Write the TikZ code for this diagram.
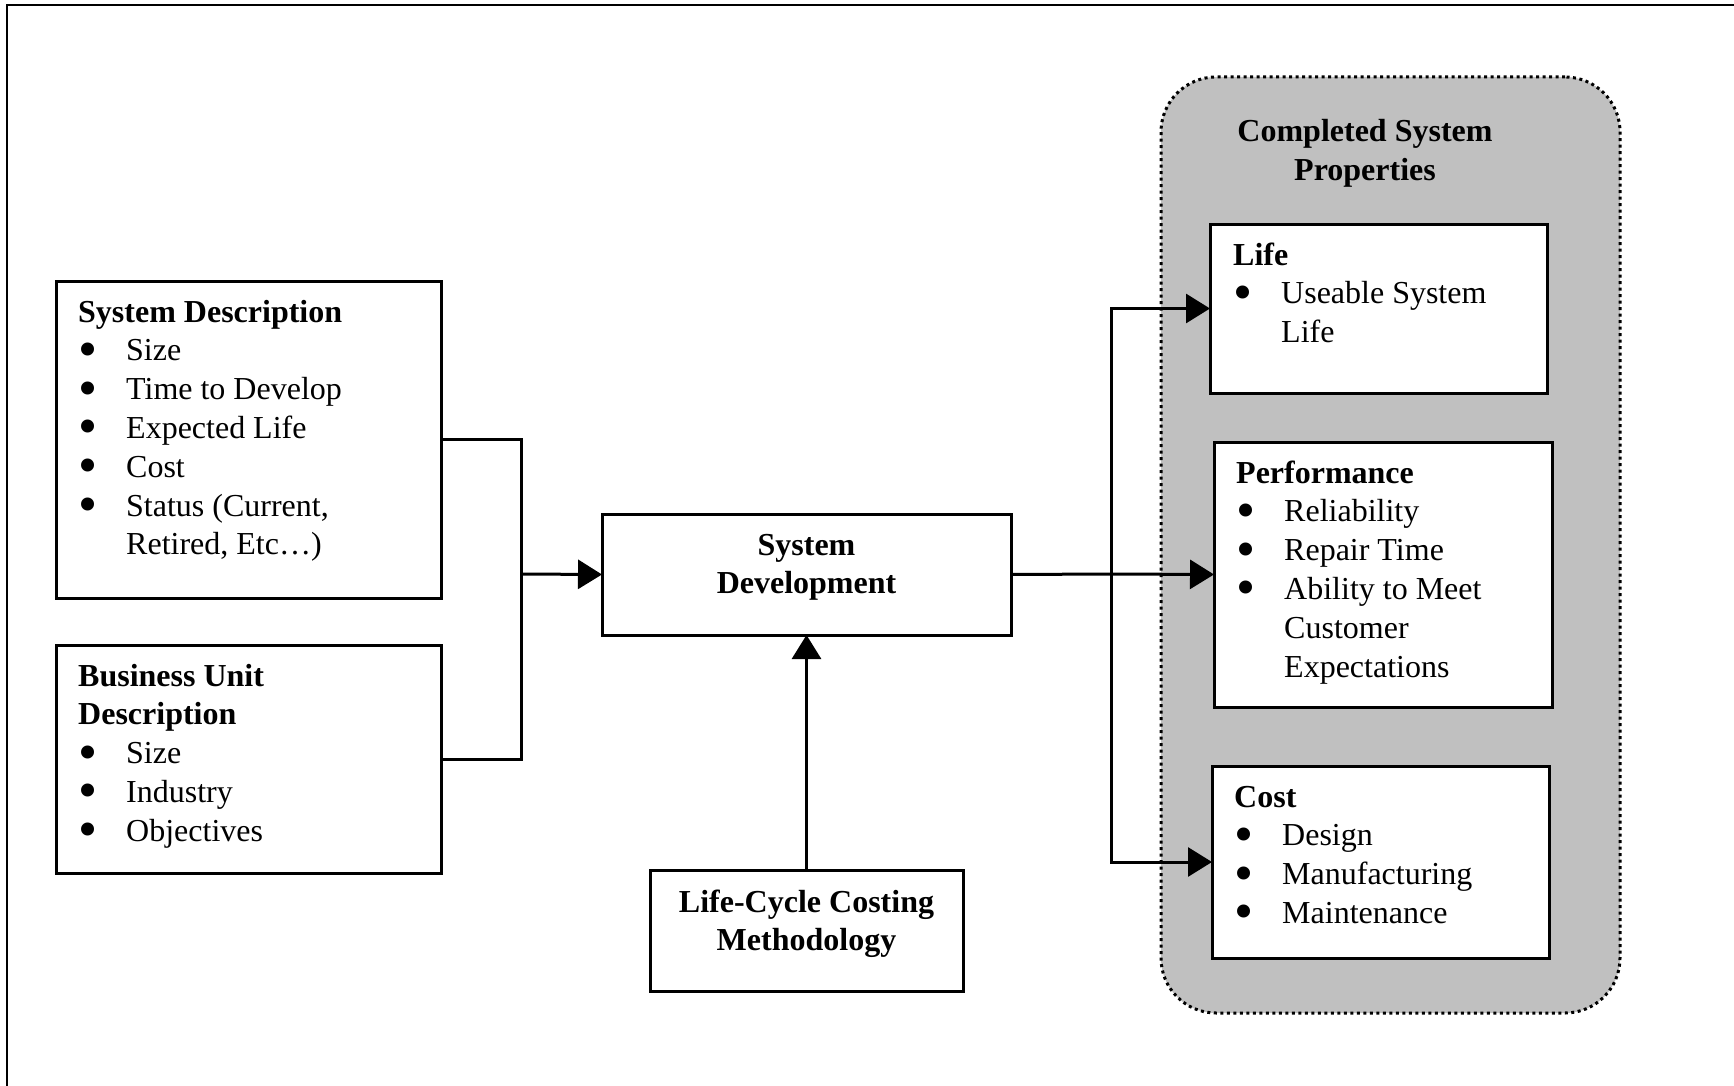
\documentclass[tikz,border=0pt]{standalone}
\usepackage{graphicx}
\usepackage{fontspec}
\setmainfont{Liberation Serif}
\usetikzlibrary{arrows.meta,calc}
\definecolor{panelgrey}{RGB}{192,192,192}
% bullet column and hanging indent for list lines
\newcommand\bul{\makebox[48pt][l]{\smash{\raisebox{-6.5pt}{\scalebox{1.7}{\textbullet}}}}}
\newcommand\hang{\hspace*{48pt}}
\begin{document}
\begin{tikzpicture}[x=1pt,y=-1pt,
  box/.style={draw, line width=3pt, fill=white, inner sep=0pt, outer sep=0pt, anchor=north west},
  body/.style={inner sep=0pt, font=\fontsize{32}{38.8}\selectfont},
  wire/.style={line width=3pt},
  arrowlink/.style={wire, -{Triangle[length=24pt,width=29pt]}}]

\path[use as bounding box] (0,0) rectangle (1734,1086);

% page frame (top and left rules)
\draw[line width=2pt] (1734,5) -- (7,5) -- (7,1086);

% shaded panel holding the completed system properties
\node[draw, line width=3pt, dash pattern=on 3pt off 3.5pt, fill=panelgrey,
      rounded corners=55pt, minimum width=459pt, minimum height=936pt,
      anchor=north west, inner sep=0pt, outer sep=0pt] (panel) at (1161,77) {};
\node[body, anchor=base] (paneltitle) at (1365,142)
  {\begin{tabular}[t]{@{}c@{}}\bfseries Completed System\\ \bfseries Properties\end{tabular}};

% boxes
\node[box, minimum width=385pt, minimum height=317pt] (sd)   at (56,281)  {};
\node[box, minimum width=385pt, minimum height=228pt] (bu)   at (56,645)  {};
\node[box, minimum width=409pt, minimum height=121pt] (sdev) at (602,514) {};
\node[box, minimum width=313pt, minimum height=121pt] (lcc)  at (650,870) {};
\node[box, minimum width=337pt, minimum height=169pt] (life) at (1210,224) {};
\node[box, minimum width=338pt, minimum height=265pt] (perf) at (1214,442) {};
\node[box, minimum width=337pt, minimum height=192pt] (cost) at (1212,766) {};

% box contents
\node[body, anchor=base west] (sdtext) at ($(sd.north west)+(22,41)$)
  {\begin{tabular}[t]{@{}l@{}}
   \bfseries System Description\\
   \bul Size\\
   \bul Time to Develop\\
   \bul Expected Life\\
   \bul Cost\\
   \bul Status (Current,\\
   \hang Retired, Etc…)
   \end{tabular}};

\node[body, anchor=base west] (butext) at ($(bu.north west)+(22,41)$)
  {\begin{tabular}[t]{@{}l@{}}
   \bfseries Business Unit\\
   \bfseries Description\\
   \bul Size\\
   \bul Industry\\
   \bul Objectives
   \end{tabular}};

\node[body, anchor=base] (sdevtext) at ($(sdev.north)+(0,41)$)
  {\begin{tabular}[t]{@{}c@{}}\bfseries System\\ \bfseries Development\end{tabular}};

\node[body, anchor=base] (lcctext) at ($(lcc.north)+(0,42)$)
  {\begin{tabular}[t]{@{}c@{}}\bfseries Life-Cycle Costing\\ \bfseries Methodology\end{tabular}};

\node[body, anchor=base west] (lifetext) at ($(life.north west)+(23,41)$)
  {\begin{tabular}[t]{@{}l@{}}
   \bfseries Life\\
   \bul Useable System\\
   \hang Life
   \end{tabular}};

\node[body, anchor=base west] (perftext) at ($(perf.north west)+(22,41)$)
  {\begin{tabular}[t]{@{}l@{}}
   \bfseries Performance\\
   \bul Reliability\\
   \bul Repair Time\\
   \bul Ability to Meet\\
   \hang Customer\\
   \hang Expectations
   \end{tabular}};

\node[body, anchor=base west] (costtext) at ($(cost.north west)+(22,41)$)
  {\begin{tabular}[t]{@{}l@{}}
   \bfseries Cost\\
   \bul Design\\
   \bul Manufacturing\\
   \bul Maintenance
   \end{tabular}};

% connectors
\coordinate (joinin)  at (521,574);
\coordinate (joinout) at (1111,574);

\draw[wire] (sd.east) -| (joinin);
\draw[wire] (bu.east) -| (joinin);
\draw[arrowlink] (joinin) -- (sdev.west);
\draw[arrowlink] (lcc.north) -- (sdev.south);

\draw[wire] (sdev.east) -- (joinout);
\draw[arrowlink] (joinout) -- (perf.west);
\draw[arrowlink] (joinout) |- (life.west);
\draw[arrowlink] (joinout) |- (cost.west);
\end{tikzpicture}
\end{document}
